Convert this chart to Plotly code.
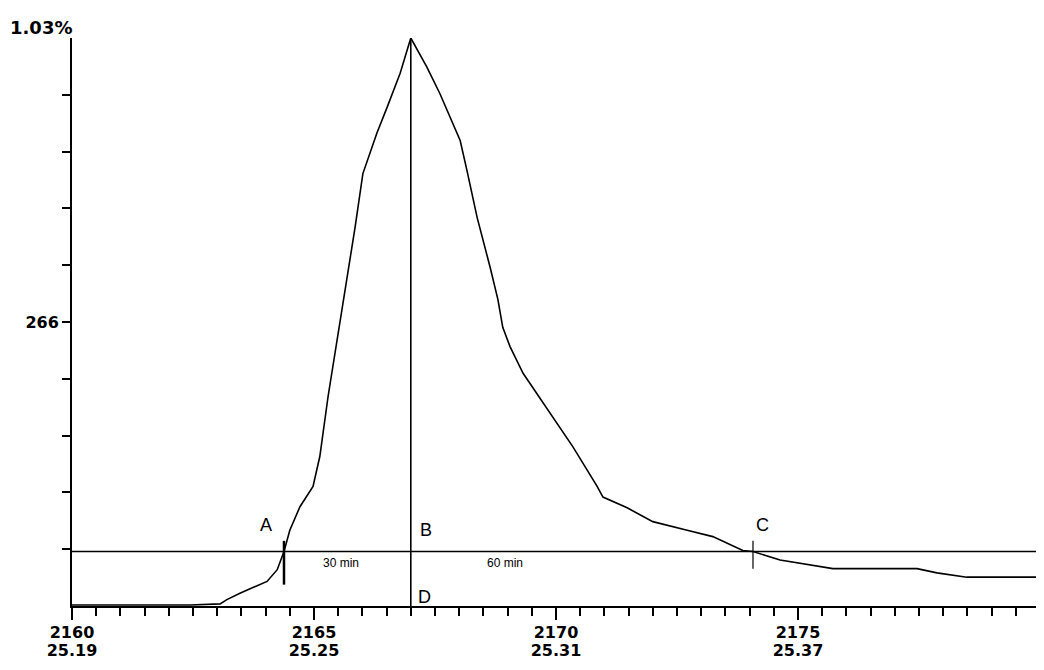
import plotly.graph_objects as go

# chromatogram trace (time, signal counts)
time_min = [2160.00, 2162.44, 2163.06, 2163.20, 2163.47, 2164.03, 2164.24, 2164.38,
            2164.50, 2164.71, 2164.98, 2165.12, 2165.29, 2165.39, 2165.50, 2165.68,
            2165.85, 2166.01, 2166.12, 2166.30, 2166.51, 2166.78, 2167.00, 2167.33,
            2167.60, 2168.02, 2168.16, 2168.37, 2168.64, 2168.80, 2168.90, 2169.05,
            2169.32, 2169.88, 2170.35, 2170.85, 2170.97, 2171.47, 2172.00, 2172.71,
            2173.24, 2173.86, 2174.07, 2174.63, 2175.04, 2175.72, 2177.46, 2177.87,
            2178.49, 2180.00]
signal = [1, 1, 2, 6, 12, 23, 34, 51,
          71, 93, 112, 140, 196, 224, 257, 305,
          355, 405, 420, 443, 467, 499, 532, 505,
          480, 436, 408, 364, 317, 287, 261, 243,
          218, 181, 149, 112, 102, 92, 79, 71,
          65, 52, 51, 43, 40, 35, 35, 31,
          27, 27]

baseline = 51
peak_time = 2167.0
point_a = 2164.38
point_c = 2174.07

x_ticks = [2160, 2165, 2170, 2175]
x_ticks_second = ["25.19", "25.25", "25.31", "25.37"]
y_ticks = [53.2, 106.4, 159.6, 212.8, 266, 319.2, 372.4, 425.6, 478.8]
y_max = 532
y_top_label = "1.03%"

bold = dict(family="DejaVu Sans", size=16, color="black", weight="bold")

fig = go.Figure()
fig.add_trace(go.Scatter(x=time_min, y=signal, mode="lines",
                         line=dict(color="black", width=1.6), showlegend=False))
# baseline
fig.add_trace(go.Scatter(x=[2160, 2180], y=[baseline, baseline], mode="lines",
                         line=dict(color="black", width=1.4), showlegend=False))
# peak line B-D
fig.add_trace(go.Scatter(x=[peak_time, peak_time], y=[0, y_max], mode="lines",
                         line=dict(color="black", width=1.6), showlegend=False))
# ticks at A and C
fig.add_trace(go.Scatter(x=[point_a, point_a], y=[baseline - 31, baseline + 10], mode="lines",
                         line=dict(color="black", width=2.5), showlegend=False))
fig.add_trace(go.Scatter(x=[point_c, point_c], y=[baseline - 16, baseline + 10], mode="lines",
                         line=dict(color="black", width=1.2), showlegend=False))
# dummy on the overlay axes so they draw
fig.add_trace(go.Scatter(x=[2180], y=[0], xaxis="x2", yaxis="y2", mode="markers",
                         marker=dict(opacity=0), showlegend=False, hoverinfo="skip"))

labels = [("A", point_a - 0.38, baseline + 25), ("B", peak_time + 0.32, baseline + 20),
          ("C", point_c + 0.2, baseline + 25), ("D", peak_time + 0.28, baseline - 43)]
for txt, x, y in labels:
    fig.add_annotation(x=x, y=y, text=txt, showarrow=False,
                       font=dict(family="Liberation Sans", size=18, color="black"))
fig.add_annotation(x=2165.55, y=baseline - 11, text="30 min", showarrow=False,
                   font=dict(family="Liberation Sans", size=12, color="black"))
fig.add_annotation(x=2168.95, y=baseline - 11, text="60 min", showarrow=False,
                   font=dict(family="Liberation Sans", size=12, color="black"))
fig.add_annotation(x=0, y=1, xref="paper", yref="paper", text=y_top_label,
                   showarrow=False, xanchor="right", yanchor="bottom", xshift=2, yshift=-2,
                   font=dict(family="DejaVu Sans", size=18, color="black", weight="bold"))

# page body keeps its default 8px margin, so the figure is sized to fit inside it
fig.update_layout(
    width=1036, height=654, autosize=False,
    margin=dict(l=64, r=4, t=30, b=56),
    paper_bgcolor="white", plot_bgcolor="white",
    xaxis=dict(range=[2160, 2180], showgrid=False, zeroline=False, automargin=False,
               showline=True, linecolor="black", linewidth=2,
               ticks="outside", ticklen=12, tickwidth=2, tickcolor="black",
               tickvals=x_ticks, ticktext=[str(t) for t in x_ticks],
               tickfont=bold, ticklabelstandoff=-1,
               minor=dict(dtick=0.5, ticks="outside", ticklen=8, tickwidth=1.5,
                          tickcolor="black", showgrid=False)),
    # second row of time labels
    xaxis2=dict(range=[2160, 2180], overlaying="x", side="bottom", showgrid=False,
                zeroline=False, automargin=False, showline=False, ticks="",
                tickvals=x_ticks, ticktext=x_ticks_second,
                tickfont=bold, ticklabelstandoff=33),
    yaxis=dict(range=[0, y_max], showgrid=False, zeroline=False, automargin=False,
               showline=True, linecolor="black", linewidth=2,
               ticks="outside", ticklen=8, tickwidth=1.5, tickcolor="black",
               tickvals=y_ticks,
               ticktext=["266" if v == 266 else "" for v in y_ticks],
               tickfont=bold),
    yaxis2=dict(range=[0, y_max], overlaying="y", side="right", showgrid=False,
                zeroline=False, showline=True, linecolor="black", linewidth=1.5,
                automargin=False,
                ticks="inside", ticklen=4, tickcolor="black",
                tickvals=y_ticks, showticklabels=False),
)

fig.write_html("out.html")
